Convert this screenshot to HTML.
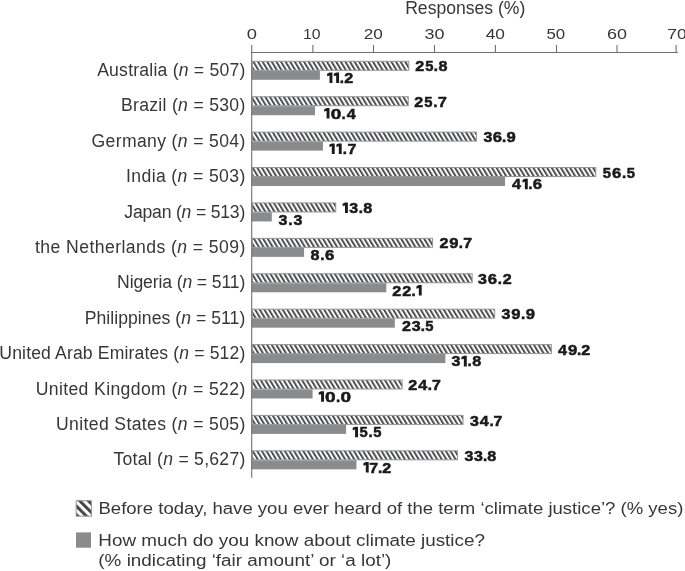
<!DOCTYPE html>
<html><head><meta charset="utf-8"><style>
html,body{margin:0;padding:0;background:#fff;width:685px;height:571px;overflow:hidden}
svg{display:block;will-change:transform}
text{font-family:"Liberation Sans",sans-serif;fill:#393637}
.tick{font-size:15.5px}
.title{font-size:17.6px}
.lab{font-size:17.6px;text-anchor:end}
.val{font-size:15.3px;font-weight:bold;fill:#1a1a1a;stroke:#1a1a1a;stroke-width:0.55px}
.leg{font-size:17.3px}
</style></head><body>
<svg width="685" height="571" viewBox="0 0 685 571">
<defs>
<pattern id="hatch" patternUnits="userSpaceOnUse" width="4.6" height="7.6" patternTransform="translate(251.7 60.8) skewX(31)">
<rect width="4.6" height="7.6" fill="#fff"/>
<rect width="2.3" height="7.6" fill="#4b4e51"/>
</pattern>
<pattern id="hatchL" patternUnits="userSpaceOnUse" width="8.6" height="20" patternTransform="translate(77.25 500.5) skewX(45)">
<rect width="8.6" height="20" fill="#fff"/>
<rect width="4.3" height="20" fill="#474747"/>
</pattern>
</defs>
<line x1="251.2" y1="52.5" x2="677.9" y2="52.5" stroke="#707070" stroke-width="1.1"/>
<text x="246.89" y="39.0" class="tick" textLength="10.21" lengthAdjust="spacingAndGlyphs">0</text>
<line x1="312.90" y1="45" x2="312.90" y2="52.5" stroke="#707070" stroke-width="1.1"/>
<text x="303.02" y="39.0" class="tick" textLength="17.59" lengthAdjust="spacingAndGlyphs">10</text>
<line x1="373.50" y1="45" x2="373.50" y2="52.5" stroke="#707070" stroke-width="1.1"/>
<text x="363.72" y="39.0" class="tick" textLength="19.09" lengthAdjust="spacingAndGlyphs">20</text>
<line x1="434.45" y1="45" x2="434.45" y2="52.5" stroke="#707070" stroke-width="1.1"/>
<text x="424.41" y="39.0" class="tick" textLength="20.00" lengthAdjust="spacingAndGlyphs">30</text>
<line x1="495.40" y1="45" x2="495.40" y2="52.5" stroke="#707070" stroke-width="1.1"/>
<text x="485.74" y="39.0" class="tick" textLength="19.26" lengthAdjust="spacingAndGlyphs">40</text>
<line x1="556.50" y1="45" x2="556.50" y2="52.5" stroke="#707070" stroke-width="1.1"/>
<text x="546.48" y="39.0" class="tick" textLength="18.73" lengthAdjust="spacingAndGlyphs">50</text>
<line x1="617.00" y1="45" x2="617.00" y2="52.5" stroke="#707070" stroke-width="1.1"/>
<text x="606.91" y="39.0" class="tick" textLength="19.99" lengthAdjust="spacingAndGlyphs">60</text>
<line x1="676.10" y1="45" x2="676.10" y2="52.5" stroke="#707070" stroke-width="1.1"/>
<text x="667.21" y="39.0" class="tick" textLength="19.40" lengthAdjust="spacingAndGlyphs">70</text>
<text x="405.16" y="13.9" class="title" textLength="120.14" lengthAdjust="spacing">Responses (%)</text>
<rect x="252.20" y="61.30" width="156.62" height="9.00" fill="url(#hatch)" stroke="#959595" stroke-width="1"/>
<rect x="251.70" y="70.80" width="68.21" height="9.00" fill="#8a8b8d"/>
<text x="245.29" y="75.90" class="lab" textLength="148.13" lengthAdjust="spacing">Australia (<tspan font-style="italic">n</tspan> = 507)</text>
<text transform="translate(415.88 71.40) scale(1.052 1)" x="-0.53" class="val">2</text><text transform="translate(425.57 71.40) scale(0.965 1)" x="-0.47" class="val">5</text><text transform="translate(434.87 71.40) scale(0.996 1)" x="-1.04" class="val">.</text><text transform="translate(438.97 71.40) scale(1.053 1)" x="-0.49" class="val">8</text>
<path d="M329.50,72.57H332.40V83.10H329.50V75.47L327.10,76.17V73.77Z" fill="#1a1a1a"/><path d="M336.17,72.57H339.07V83.10H336.17V75.47L333.77,76.17V73.77Z" fill="#1a1a1a"/><text transform="translate(340.71 83.10) scale(0.996 1)" x="-1.04" class="val">.</text><text transform="translate(344.78 83.10) scale(1.052 1)" x="-0.53" class="val">2</text>
<rect x="252.20" y="96.71" width="156.01" height="9.00" fill="url(#hatch)" stroke="#959595" stroke-width="1"/>
<rect x="251.70" y="106.21" width="63.34" height="9.00" fill="#8a8b8d"/>
<text x="245.29" y="111.31" class="lab" textLength="124.34" lengthAdjust="spacing">Brazil (<tspan font-style="italic">n</tspan> = 530)</text>
<text transform="translate(414.88 106.81) scale(1.052 1)" x="-0.53" class="val">2</text><text transform="translate(424.81 106.81) scale(0.965 1)" x="-0.47" class="val">5</text><text transform="translate(434.34 106.81) scale(0.996 1)" x="-1.04" class="val">.</text><text transform="translate(438.67 106.81) scale(1.038 1)" x="-0.66" class="val">7</text>
<path d="M326.60,107.98H329.50V118.51H326.60V110.88L324.20,111.58V109.18Z" fill="#1a1a1a"/><text transform="translate(331.41 118.51) scale(1.244 1)" x="-0.61" class="val">0</text><text transform="translate(342.64 118.51) scale(0.996 1)" x="-1.04" class="val">.</text><text transform="translate(346.97 118.51) scale(1.055 1)" x="-0.23" class="val">4</text>
<rect x="252.20" y="132.12" width="224.22" height="9.00" fill="url(#hatch)" stroke="#959595" stroke-width="1"/>
<rect x="251.70" y="141.62" width="71.25" height="9.00" fill="#8a8b8d"/>
<text x="245.29" y="146.72" class="lab" textLength="153.78" lengthAdjust="spacing">Germany (<tspan font-style="italic">n</tspan> = 504)</text>
<text transform="translate(483.77 142.22) scale(1.045 1)" x="-0.35" class="val">3</text><text transform="translate(493.41 142.22) scale(1.088 1)" x="-0.56" class="val">6</text><text transform="translate(503.14 142.22) scale(0.996 1)" x="-1.04" class="val">.</text><text transform="translate(506.97 142.22) scale(1.086 1)" x="-0.53" class="val">9</text>
<path d="M331.80,143.39H334.70V153.92H331.80V146.29L329.40,146.99V144.59Z" fill="#1a1a1a"/><path d="M338.80,143.39H341.70V153.92H338.80V146.29L336.40,146.99V144.59Z" fill="#1a1a1a"/><text transform="translate(343.67 153.92) scale(0.996 1)" x="-1.04" class="val">.</text><text transform="translate(348.07 153.92) scale(1.038 1)" x="-0.66" class="val">7</text>
<rect x="252.20" y="167.53" width="343.58" height="9.00" fill="url(#hatch)" stroke="#959595" stroke-width="1"/>
<rect x="251.70" y="177.03" width="253.34" height="9.00" fill="#8a8b8d"/>
<text x="245.29" y="182.13" class="lab" textLength="119.22" lengthAdjust="spacing">India (<tspan font-style="italic">n</tspan> = 503)</text>
<text transform="translate(603.07 177.63) scale(0.965 1)" x="-0.47" class="val">5</text><text transform="translate(612.64 177.63) scale(1.088 1)" x="-0.56" class="val">6</text><text transform="translate(622.91 177.63) scale(0.996 1)" x="-1.04" class="val">.</text><text transform="translate(627.27 177.63) scale(0.965 1)" x="-0.47" class="val">5</text>
<text transform="translate(512.27 189.33) scale(1.055 1)" x="-0.23" class="val">4</text><path d="M524.87,178.80H527.77V189.33H524.87V181.70L522.47,182.40V180.00Z" fill="#1a1a1a"/><text transform="translate(529.31 189.33) scale(0.996 1)" x="-1.04" class="val">.</text><text transform="translate(533.27 189.33) scale(1.088 1)" x="-0.56" class="val">6</text>
<rect x="252.20" y="202.94" width="83.54" height="9.00" fill="url(#hatch)" stroke="#959595" stroke-width="1"/>
<rect x="251.70" y="212.44" width="20.10" height="9.00" fill="#8a8b8d"/>
<text x="245.29" y="217.54" class="lab" textLength="120.97" lengthAdjust="spacing">Japan (<tspan font-style="italic">n</tspan> = 513)</text>
<path d="M345.00,202.51H347.90V213.04H345.00V205.41L342.60,206.11V203.71Z" fill="#1a1a1a"/><text transform="translate(349.68 213.04) scale(1.045 1)" x="-0.35" class="val">3</text><text transform="translate(359.68 213.04) scale(0.996 1)" x="-1.04" class="val">.</text><text transform="translate(363.88 213.04) scale(1.053 1)" x="-0.49" class="val">8</text>
<text transform="translate(278.88 224.74) scale(1.045 1)" x="-0.35" class="val">3</text><text transform="translate(289.27 224.74) scale(0.996 1)" x="-1.04" class="val">.</text><text transform="translate(293.87 224.74) scale(1.045 1)" x="-0.35" class="val">3</text>
<rect x="252.20" y="238.35" width="180.37" height="9.00" fill="url(#hatch)" stroke="#959595" stroke-width="1"/>
<rect x="251.70" y="247.85" width="52.37" height="9.00" fill="#8a8b8d"/>
<text x="245.29" y="252.95" class="lab" textLength="210.26" lengthAdjust="spacing">the Netherlands (<tspan font-style="italic">n</tspan> = 509)</text>
<text transform="translate(440.07 248.45) scale(1.052 1)" x="-0.53" class="val">2</text><text transform="translate(449.81 248.45) scale(1.086 1)" x="-0.53" class="val">9</text><text transform="translate(459.84 248.45) scale(0.996 1)" x="-1.04" class="val">.</text><text transform="translate(463.98 248.45) scale(1.038 1)" x="-0.66" class="val">7</text>
<text transform="translate(311.07 260.15) scale(1.053 1)" x="-0.49" class="val">8</text><text transform="translate(321.18 260.15) scale(0.996 1)" x="-1.04" class="val">.</text><text transform="translate(325.48 260.15) scale(1.088 1)" x="-0.56" class="val">6</text>
<rect x="252.20" y="273.76" width="219.96" height="9.00" fill="url(#hatch)" stroke="#959595" stroke-width="1"/>
<rect x="251.70" y="283.26" width="134.59" height="9.00" fill="#8a8b8d"/>
<text x="245.29" y="288.36" class="lab" textLength="128.24" lengthAdjust="spacing">Nigeria (<tspan font-style="italic">n</tspan> = 511)</text>
<text transform="translate(478.27 283.86) scale(1.045 1)" x="-0.35" class="val">3</text><text transform="translate(488.47 283.86) scale(1.088 1)" x="-0.56" class="val">6</text><text transform="translate(498.77 283.86) scale(0.996 1)" x="-1.04" class="val">.</text><text transform="translate(503.17 283.86) scale(1.052 1)" x="-0.53" class="val">2</text>
<text transform="translate(392.88 295.56) scale(1.052 1)" x="-0.53" class="val">2</text><text transform="translate(402.68 295.56) scale(1.052 1)" x="-0.53" class="val">2</text><text transform="translate(412.48 295.56) scale(0.996 1)" x="-1.04" class="val">.</text><path d="M418.80,285.03H421.70V295.56H418.80V287.93L416.40,288.63V286.23Z" fill="#1a1a1a"/>
<rect x="252.20" y="309.17" width="242.49" height="9.00" fill="url(#hatch)" stroke="#959595" stroke-width="1"/>
<rect x="251.70" y="318.67" width="143.12" height="9.00" fill="#8a8b8d"/>
<text x="245.29" y="323.77" class="lab" textLength="160.64" lengthAdjust="spacing">Philippines (<tspan font-style="italic">n</tspan> = 511)</text>
<text transform="translate(501.77 319.27) scale(1.045 1)" x="-0.35" class="val">3</text><text transform="translate(511.84 319.27) scale(1.086 1)" x="-0.53" class="val">9</text><text transform="translate(522.01 319.27) scale(0.996 1)" x="-1.04" class="val">.</text><text transform="translate(526.28 319.27) scale(1.086 1)" x="-0.53" class="val">9</text>
<text transform="translate(402.47 330.97) scale(1.052 1)" x="-0.53" class="val">2</text><text transform="translate(412.01 330.97) scale(1.045 1)" x="-0.35" class="val">3</text><text transform="translate(421.74 330.97) scale(0.996 1)" x="-1.04" class="val">.</text><text transform="translate(425.68 330.97) scale(0.965 1)" x="-0.47" class="val">5</text>
<rect x="252.20" y="344.58" width="299.13" height="9.00" fill="url(#hatch)" stroke="#959595" stroke-width="1"/>
<rect x="251.70" y="354.08" width="193.66" height="9.00" fill="#8a8b8d"/>
<text x="245.29" y="359.18" class="lab" textLength="245.95" lengthAdjust="spacing">United Arab Emirates (<tspan font-style="italic">n</tspan> = 512)</text>
<text transform="translate(558.27 354.68) scale(1.055 1)" x="-0.23" class="val">4</text><text transform="translate(568.48 354.68) scale(1.086 1)" x="-0.53" class="val">9</text><text transform="translate(578.08 354.68) scale(0.996 1)" x="-1.04" class="val">.</text><text transform="translate(581.78 354.68) scale(1.052 1)" x="-0.53" class="val">2</text>
<text transform="translate(451.77 366.38) scale(1.045 1)" x="-0.35" class="val">3</text><path d="M463.87,355.85H466.77V366.38H463.87V358.75L461.47,359.45V357.05Z" fill="#1a1a1a"/><text transform="translate(468.51 366.38) scale(0.996 1)" x="-1.04" class="val">.</text><text transform="translate(472.67 366.38) scale(1.053 1)" x="-0.49" class="val">8</text>
<rect x="252.20" y="379.99" width="149.92" height="9.00" fill="url(#hatch)" stroke="#959595" stroke-width="1"/>
<rect x="251.70" y="389.49" width="60.90" height="9.00" fill="#8a8b8d"/>
<text x="245.29" y="394.59" class="lab" textLength="209.65" lengthAdjust="spacing">United Kingdom (<tspan font-style="italic">n</tspan> = 522)</text>
<text transform="translate(408.88 390.09) scale(1.052 1)" x="-0.53" class="val">2</text><text transform="translate(418.38 390.09) scale(1.055 1)" x="-0.23" class="val">4</text><text transform="translate(428.77 390.09) scale(0.996 1)" x="-1.04" class="val">.</text><text transform="translate(432.67 390.09) scale(1.038 1)" x="-0.66" class="val">7</text>
<path d="M321.10,391.26H324.00V401.79H321.10V394.16L318.70,394.86V392.46Z" fill="#1a1a1a"/><text transform="translate(325.88 401.79) scale(1.244 1)" x="-0.61" class="val">0</text><text transform="translate(337.08 401.79) scale(0.996 1)" x="-1.04" class="val">.</text><text transform="translate(341.38 401.79) scale(1.244 1)" x="-0.61" class="val">0</text>
<rect x="252.20" y="415.40" width="210.82" height="9.00" fill="url(#hatch)" stroke="#959595" stroke-width="1"/>
<rect x="251.70" y="424.90" width="94.39" height="9.00" fill="#8a8b8d"/>
<text x="245.29" y="430.00" class="lab" textLength="189.25" lengthAdjust="spacing">United States (<tspan font-style="italic">n</tspan> = 505)</text>
<text transform="translate(470.47 425.50) scale(1.045 1)" x="-0.35" class="val">3</text><text transform="translate(480.11 425.50) scale(1.055 1)" x="-0.23" class="val">4</text><text transform="translate(490.44 425.50) scale(0.996 1)" x="-1.04" class="val">.</text><text transform="translate(494.27 425.50) scale(1.038 1)" x="-0.66" class="val">7</text>
<path d="M355.10,426.67H358.00V437.20H355.10V429.57L352.70,430.27V427.87Z" fill="#1a1a1a"/><text transform="translate(359.91 437.20) scale(0.965 1)" x="-0.47" class="val">5</text><text transform="translate(369.44 437.20) scale(0.996 1)" x="-1.04" class="val">.</text><text transform="translate(373.77 437.20) scale(0.965 1)" x="-0.47" class="val">5</text>
<rect x="252.20" y="450.81" width="205.34" height="9.00" fill="url(#hatch)" stroke="#959595" stroke-width="1"/>
<rect x="251.70" y="460.31" width="104.75" height="9.00" fill="#8a8b8d"/>
<text x="245.29" y="465.41" class="lab" textLength="131.79" lengthAdjust="spacing">Total (<tspan font-style="italic">n</tspan> = 5,627)</text>
<text transform="translate(464.77 460.91) scale(1.045 1)" x="-0.35" class="val">3</text><text transform="translate(474.38 460.91) scale(1.045 1)" x="-0.35" class="val">3</text><text transform="translate(483.98 460.91) scale(0.996 1)" x="-1.04" class="val">.</text><text transform="translate(487.78 460.91) scale(1.053 1)" x="-0.49" class="val">8</text>
<path d="M365.80,462.08H368.70V472.61H365.80V464.98L363.40,465.68V463.28Z" fill="#1a1a1a"/><text transform="translate(370.04 472.61) scale(1.038 1)" x="-0.66" class="val">7</text><text transform="translate(379.11 472.61) scale(0.996 1)" x="-1.04" class="val">.</text><text transform="translate(382.87 472.61) scale(1.052 1)" x="-0.53" class="val">2</text>
<line x1="251.7" y1="45" x2="251.7" y2="477.8" stroke="#707070" stroke-width="1.1"/>
<rect x="76.2" y="500.7" width="15.2" height="15.5" fill="url(#hatchL)" stroke="#959595" stroke-width="1"/>
<rect x="76" y="532.4" width="15" height="15.3" fill="#8a8b8d"/>
<text x="98.48" y="513.9" class="leg" textLength="584.89" lengthAdjust="spacingAndGlyphs">Before today, have you ever heard of the term ‘climate justice’? (% yes)</text>
<text x="98.38" y="546.0" class="leg" textLength="386.56" lengthAdjust="spacingAndGlyphs">How much do you know about climate justice?</text>
<text x="98.33" y="566.3" class="leg" textLength="293.05" lengthAdjust="spacingAndGlyphs">(% indicating ‘fair amount’ or ‘a lot’)</text>
</svg>
</body></html>
